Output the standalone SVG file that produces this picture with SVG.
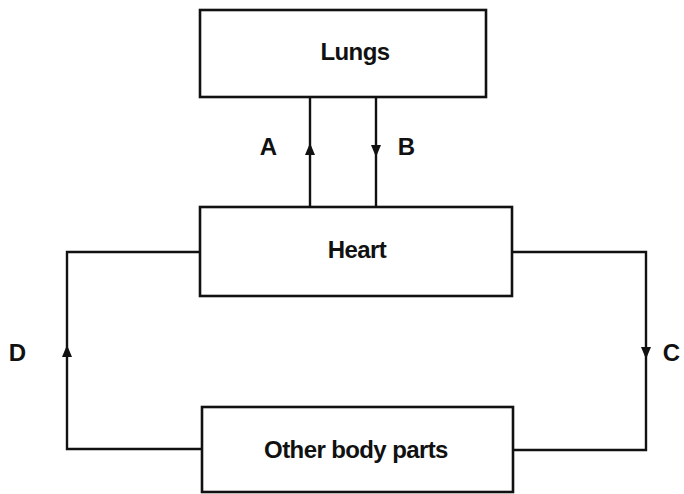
<svg xmlns="http://www.w3.org/2000/svg" width="684" height="494" viewBox="0 0 684 494">
<style>
.box{fill:#fff;stroke:#111;stroke-width:2.6}
.ln{fill:none;stroke:#111;stroke-width:2.4}
.ah{fill:#111}
.t{font-family:"Liberation Sans",Arial,sans-serif;font-weight:bold;font-size:24px;fill:#111;text-anchor:middle;letter-spacing:-0.6px}
</style>
<rect width="684" height="494" fill="#fff"/>
<g id="connectors">
<line class="ln" x1="310" y1="97" x2="310" y2="207"/>
<line class="ln" x1="376" y1="97" x2="376" y2="207"/>
<polyline class="ln" points="200,252 67,252 67,449 202,449"/>
<polyline class="ln" points="512,252 646,252 646,450 513,450"/>
<polygon class="ah" points="310,143 305,155 315,155"/>
<polygon class="ah" points="376,157 371,145 381,145"/>
<polygon class="ah" points="67,345 62,357 72,357"/>
<polygon class="ah" points="646,359 641,347 651,347"/>
<text class="t" x="268" y="155">A</text>
<text class="t" x="406" y="155">B</text>
<text class="t" x="17" y="361">D</text>
<text class="t" x="671" y="361">C</text>
</g>
<g id="lungs">
<rect class="box" x="200" y="10" width="286" height="87"/>
<text class="t" x="355" y="60">Lungs</text>
</g>
<g id="heart">
<rect class="box" x="200" y="207" width="312" height="89"/>
<text class="t" x="357" y="258">Heart</text>
</g>
<g id="other">
<rect class="box" x="202" y="407" width="311" height="85"/>
<text class="t" x="356" y="458">Other body parts</text>
</g>
</svg>
